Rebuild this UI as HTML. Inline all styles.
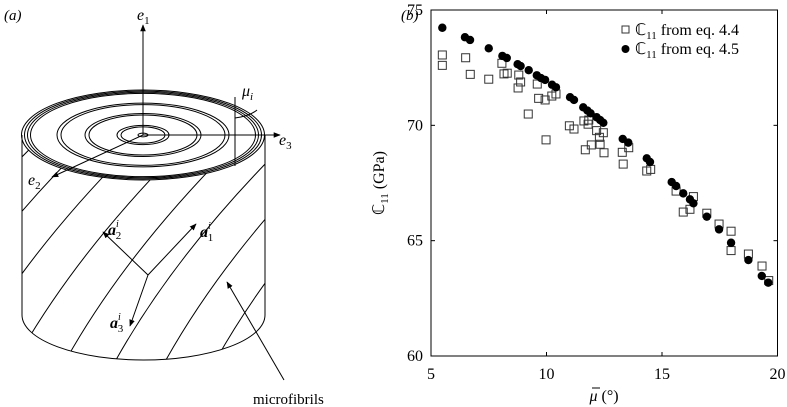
<!DOCTYPE html>
<html><head><meta charset="utf-8"><style>
html,body{margin:0;padding:0;background:#fff;width:787px;height:407px;overflow:hidden}
svg{display:block;font-family:"Liberation Serif",serif}
</style></head><body>
<svg id="fig" width="787" height="407" viewBox="0 0 787 407">
<defs>
<marker id="ar" viewBox="0 0 10 10" refX="9" refY="5" markerWidth="7" markerHeight="7" orient="auto"><path d="M0,1 L10,5 L0,9 z" fill="#000"/></marker>
<clipPath id="body"><path d="M22,135 A121.5,45 0 0 0 265,135 L265,315 A121.5,45 0 0 1 22,315 Z"/></clipPath>
</defs>
<g id="panel-a" fill="none" stroke="#000" stroke-width="1">
<text x="4" y="20" font-size="15" font-style="italic" fill="#000" stroke="none">(a)</text>
<line x1="22" y1="135" x2="22" y2="315"/>
<line x1="265" y1="135" x2="265" y2="315"/>
<path d="M22,315 A121.5,45 0 0 0 265,315"/>
<g clip-path="url(#body)" id="helix"></g>
<g id="rings"></g>
<line x1="143" y1="135" x2="143" y2="25" marker-end="url(#ar)"/>
<line x1="143" y1="135" x2="280" y2="135" marker-end="url(#ar)"/>
<line x1="143" y1="135" x2="52" y2="177" marker-end="url(#ar)"/>
<text x="137" y="20" font-size="16" font-style="italic" fill="#000" stroke="none">e<tspan font-size="11" dy="4" font-style="normal">1</tspan></text>
<text x="279" y="145" font-size="16" font-style="italic" fill="#000" stroke="none">e<tspan font-size="11" dy="4" font-style="normal">3</tspan></text>
<text x="28" y="185" font-size="16" font-style="italic" fill="#000" stroke="none">e<tspan font-size="11" dy="4" font-style="normal">2</tspan></text>
<line x1="235" y1="97" x2="235" y2="166"/>
<path d="M235,118 Q250,116 257,110"/>
<text x="242" y="96" font-size="16" font-style="italic" fill="#000" stroke="none">μ<tspan font-size="11" dy="4">i</tspan></text>
<line x1="148" y1="275" x2="103" y2="232" marker-end="url(#ar)"/>
<line x1="148" y1="275" x2="196" y2="224" marker-end="url(#ar)"/>
<line x1="148" y1="275" x2="130" y2="326" marker-end="url(#ar)"/>
<text x="108" y="235" font-size="16" font-weight="bold" font-style="italic" fill="#000" stroke="none">a<tspan font-size="10" dy="-8" font-weight="normal">i</tspan><tspan font-size="11" dx="-3" dy="12" font-weight="normal" font-style="normal">2</tspan></text>
<text x="200" y="237" font-size="16" font-weight="bold" font-style="italic" fill="#000" stroke="none">a<tspan font-size="10" dy="-8" font-weight="normal">i</tspan><tspan font-size="11" dx="-3" dy="12" font-weight="normal" font-style="normal">1</tspan></text>
<text x="110" y="328" font-size="16" font-weight="bold" font-style="italic" fill="#000" stroke="none">a<tspan font-size="10" dy="-8" font-weight="normal">i</tspan><tspan font-size="11" dx="-3" dy="12" font-weight="normal" font-style="normal">3</tspan></text>
<line x1="284" y1="380" x2="227" y2="282" marker-end="url(#ar)"/>
<text x="253" y="404" font-size="15" fill="#000" stroke="none">microfibrils</text>
</g>
<g id="panel-b"></g>
</svg>
<script>
const ns="http://www.w3.org/2000/svg";
function mk(t,a,p){const e=document.createElementNS(ns,t);for(const k in a)e.setAttribute(k,a[k]);p.appendChild(e);return e;}
const rings=document.getElementById('rings');
[121.5,118.5,115.5,112.5,86,82,58,54,26,22,5].forEach(r=>{
  const e=mk('ellipse',{cx:143,cy:135,rx:r,ry:r*0.37},rings);
  
  
});
const helix=document.getElementById('helix');
for(let i=-6;i<8;i++){
  const x=i*50;
  const p=mk('path',{d:`M${x},390 Q${x+70},250 ${x+220},110`},helix);
  
  
}
const xTicks=[5,10,15,20];
const yTicks=[60,65,70,75];
const sqX=[5.49,5.49,6.50,6.70,7.50,8.07,8.16,8.30,8.80,8.88,8.77,9.60,9.21,9.66,9.94,10.23,10.41,9.98,10.99,11.19,11.62,11.83,11.80,12.17,12.29,12.46,12.32,11.94,11.68,12.49,13.28,13.32,13.56,14.34,14.51,15.61,16.36,16.21,15.92,16.94,17.47,17.99,17.99,18.74,19.33,19.62];
const sqY=[73.05,72.60,72.93,72.21,72.00,72.69,72.23,72.26,72.18,71.88,71.62,71.79,70.49,71.17,71.10,71.27,71.36,69.37,69.98,69.84,70.19,70.23,70.05,69.77,69.48,69.68,69.18,69.15,68.94,68.81,68.83,68.32,69.03,68.02,68.09,67.15,66.91,66.36,66.24,66.19,65.72,65.41,64.57,64.42,63.90,63.27];
const ciX=[5.49,6.47,6.69,7.50,8.09,8.28,8.75,8.88,9.23,9.58,9.76,9.94,10.24,10.41,11.02,11.19,11.59,11.77,11.91,12.17,12.32,12.46,13.30,13.54,14.34,14.48,15.42,15.61,15.92,16.21,16.36,16.94,17.47,17.99,18.74,19.32,19.60];
const ciY=[74.23,73.82,73.70,73.34,73.01,72.92,72.65,72.57,72.39,72.17,72.05,71.97,71.76,71.65,71.22,71.10,70.78,70.64,70.52,70.35,70.23,70.11,69.41,69.25,68.57,68.41,67.54,67.37,67.05,66.79,66.62,66.04,65.49,64.91,64.16,63.47,63.18];
const L=431,R=777.5,T=10,B=356;
const sx=v=>L+(v-5)/15*(R-L);
const sy=v=>B-(v-60)/15*(B-T);
const g=document.getElementById('panel-b');
const t0=mk('text',{x:401,y:20,'font-size':15,'font-style':'italic'},g);t0.textContent='(b)';


const box=mk('rect',{x:L,y:T,width:R-L,height:B-T,fill:'none',stroke:'#000','stroke-width':1},g);


xTicks.forEach(v=>{
  const x=sx(v);
  mk('line',{x1:x,y1:B,x2:x,y2:B-4,stroke:'#000'},g);
  mk('line',{x1:x,y1:T,x2:x,y2:T+4,stroke:'#000'},g);
  const t=mk('text',{x:x,y:B+23,'font-size':16,'text-anchor':'middle'},g);t.textContent=v;
  
  
});
yTicks.forEach(v=>{
  const y=sy(v);
  mk('line',{x1:L,y1:y,x2:L+4,y2:y,stroke:'#000'},g);
  mk('line',{x1:R,y1:y,x2:R-4,y2:y,stroke:'#000'},g);
  const t=mk('text',{x:L-8,y:y+5,'font-size':16,'text-anchor':'end'},g);t.textContent=v;
  
  
});
const yt=mk('text',{x:0,y:0,'font-size':16,'text-anchor':'middle',transform:'translate(384,183) rotate(-90)'},g);
yt.innerHTML='ℂ<tspan font-size="11" dy="4">11</tspan><tspan dy="-4"> (GPa)</tspan>';


const xt=mk('text',{x:604,y:401,'font-size':16,'text-anchor':'middle'},g);
xt.innerHTML='<tspan font-style="italic">μ</tspan> (°)';


const xb=mk('line',{x1:592,y1:388,x2:600,y2:388,stroke:'#000','stroke-width':1},g);


sqX.forEach((v,i)=>{
  const r=mk('rect',{x:sx(v)-4,y:sy(sqY[i])-4,width:8,height:8,fill:'none',stroke:'#333','stroke-width':1},g);
  
  
});
ciX.forEach((v,i)=>{
  const c=mk('circle',{cx:sx(v),cy:sy(ciY[i]),r:4.2,fill:'#000'},g);
  
  
});
const lg=mk('g',{},g);


mk('rect',{x:622,y:26,width:7,height:7,fill:'none',stroke:'#333'},lg);
mk('circle',{cx:625.5,cy:49,r:4,fill:'#000'},lg);
const l1=mk('text',{x:635,y:35,'font-size':16},lg);l1.innerHTML='ℂ<tspan font-size="11" dy="4">11</tspan><tspan dy="-4"> from eq. 4.4</tspan>';


const l2=mk('text',{x:635,y:54,'font-size':16},lg);l2.innerHTML='ℂ<tspan font-size="11" dy="4">11</tspan><tspan dy="-4"> from eq. 4.5</tspan>';


</script>
</body></html>
